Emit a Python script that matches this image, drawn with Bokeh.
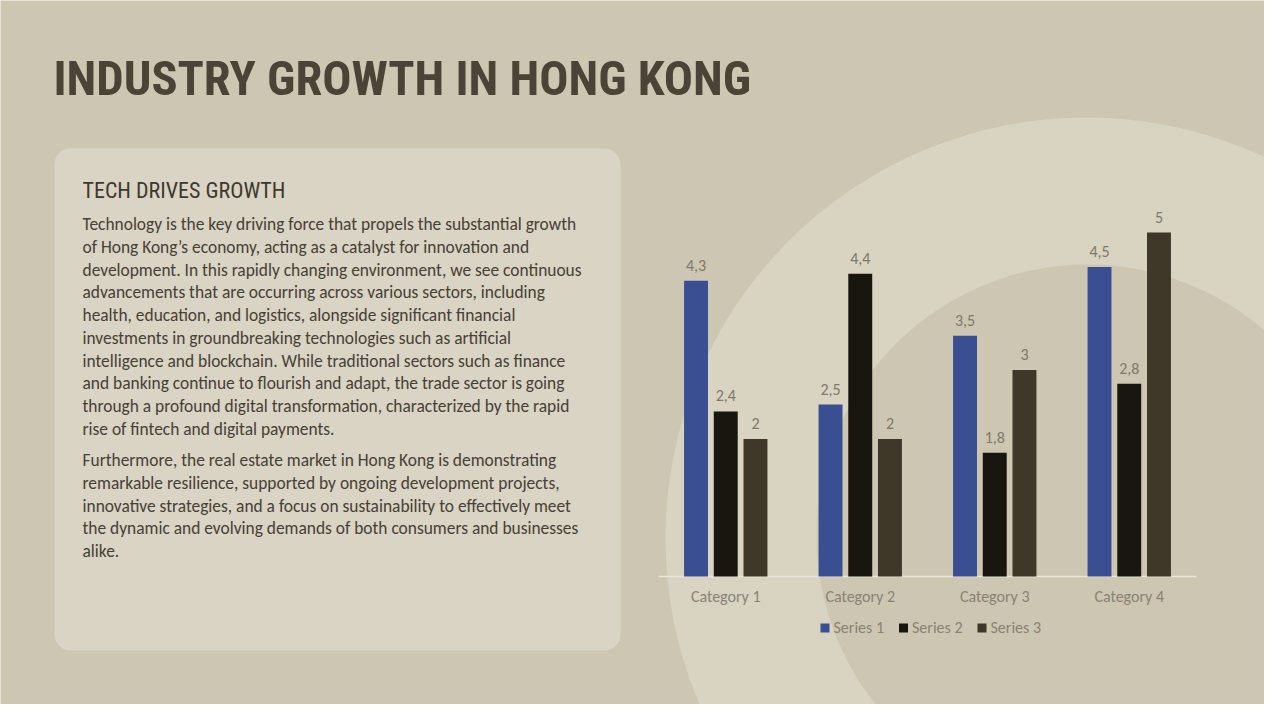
from bokeh.plotting import figure
from bokeh.models import Range1d, BoxAnnotation, ColumnDataSource
from bokeh.core.properties import value
from bokeh.embed import file_html
from bokeh.resources import INLINE
import numpy as np

# ---------------- data ----------------
categories = ["Category 1", "Category 2", "Category 3", "Category 4"]
series_names = ["Series 1", "Series 2", "Series 3"]
series_1 = [4.3, 2.5, 3.5, 4.5]
series_2 = [2.4, 4.4, 1.8, 2.8]
series_3 = [2.0, 2.0, 3.0, 5.0]
series_colors = ["#3A4F92", "#19160F", "#3F3727"]

title_text = "INDUSTRY GROWTH IN HONG KONG"
subtitle_text = "TECH DRIVES GROWTH"
paragraph_1 = [
    "Technology is the key driving force that propels the substantial growth",
    "of Hong Kong\u2019s economy, acting as a catalyst for innovation and",
    "development. In this rapidly changing environment, we see continuous",
    "advancements that are occurring across various sectors, including",
    "health, education, and logistics, alongside significant financial",
    "investments in groundbreaking technologies such as artificial",
    "intelligence and blockchain. While traditional sectors such as finance",
    "and banking continue to flourish and adapt, the trade sector is going",
    "through a profound digital transformation, characterized by the rapid",
    "rise of fintech and digital payments.",
]
paragraph_2 = [
    "Furthermore, the real estate market in Hong Kong is demonstrating",
    "remarkable resilience, supported by ongoing development projects,",
    "innovative strategies, and a focus on sustainability to effectively meet",
    "the dynamic and evolving demands of both consumers and businesses",
    "alike.",
]

# ---------------- styles / layout ----------------
BG = "#CDC6B2"
LIGHT = "#D9D3C1"
BOX = "#D9D4C3"
TITLE_COL = "#4A4336"
BODY_COL = "#474036"
LABEL_COL = "#80786B"
AXIS_COL = "#E9E5D8"
BODY_FONT = value("Carlito, Lato, sans-serif")
NARROW_FONT = value("'Roboto Condensed', 'DejaVu Sans Condensed', sans-serif")

W, H = 1264, 704
OX, OY = 8, 8          # page margin: main coordinates are window pixels

X0_PX, CAT_PX = 666.0, 134.5   # chart plot area: left edge, width of one category
Y0_PX, UNIT_PX = 584.0, 68.8   # chart baseline, pixels per value unit


def fmt(v):
    s = ("%g" % v)
    return s.replace(".", ",")


p = figure(width=W, height=H,
           x_range=Range1d(OX, OX + W), y_range=Range1d(OY + H, OY),
           output_backend="svg", toolbar_location=None,
           x_axis_location=None, y_axis_location=None, min_border=0)
p.grid.visible = False
p.outline_line_color = None
p.background_fill_color = BG
p.border_fill_color = BG

p.extra_x_ranges = {"cat": Range1d((OX - X0_PX) / CAT_PX, (OX + W - X0_PX) / CAT_PX)}
p.extra_y_ranges = {"val": Range1d((Y0_PX - (OY + H)) / UNIT_PX, (Y0_PX - OY) / UNIT_PX)}

# decorative rings
p.circle(x=[1094], y=[546], radius=421, fill_color=LIGHT, line_color=None)
p.circle(x=[1095], y=[543], radius=271, fill_color=BG, line_color=None)

# text panel
box = BoxAnnotation(left=62, right=628, top=156, bottom=658, fill_color=BOX,
                    fill_alpha=1.0, line_color=None, border_radius=16, level="underlay")
p.add_layout(box)

# title & texts
p.text(x=[61], y=[86], text=[title_text], text_font=NARROW_FONT, text_font_style="bold",
       text_font_size="48.5px", text_color=TITLE_COL, text_baseline="alphabetic")
p.text(x=[90], y=[198], text=[subtitle_text], text_font=NARROW_FONT,
       text_font_size="22px", text_color="#3E382F", text_baseline="alphabetic")

LINE_H = 22.75
y1 = 231.5 + LINE_H * np.arange(len(paragraph_1))
y2 = 467.5 + LINE_H * np.arange(len(paragraph_2))
p.text(x=[90] * (len(paragraph_1) + len(paragraph_2)), y=list(y1) + list(y2),
       text=paragraph_1 + paragraph_2, text_font=BODY_FONT, text_font_size="17.4px",
       text_color=BODY_COL, text_baseline="alphabetic")

# chart
n = len(categories)
centers = np.arange(n) + 0.5
p.segment(x0=[0], x1=[n], y0=[0], y1=[0], line_color=AXIS_COL, line_width=1.5,
          x_range_name="cat", y_range_name="val")

offsets = [-0.221, 0.0, 0.221]
bar_w = 0.178
label_gap = 15.5 / UNIT_PX
for k, vals in enumerate([series_1, series_2, series_3]):
    src = ColumnDataSource(dict(x=centers + offsets[k], top=vals,
                                ly=[v + label_gap for v in vals],
                                label=[fmt(v) for v in vals]))
    p.vbar(x="x", top="top", bottom=0, width=bar_w, source=src,
           fill_color=series_colors[k], line_color=None,
           x_range_name="cat", y_range_name="val")
    p.text(x="x", y="ly", text="label", source=src, text_font=BODY_FONT,
           text_font_size="16px", text_color=LABEL_COL, text_align="center",
           text_baseline="alphabetic", x_range_name="cat", y_range_name="val")

p.text(x=list(centers), y=[-20.0 / UNIT_PX] * n, text=categories, text_font=BODY_FONT,
       text_font_size="16px", text_color="#8A8275", text_align="center",
       text_baseline="alphabetic", x_range_name="cat", y_range_name="val")

# legend
LEG_X0, LEG_PITCH = 828.0, 78.5
lx = LEG_X0 + LEG_PITCH * np.arange(len(series_names))
p.rect(x=list(lx + 4.5), y=[635.5] * 3, width=9, height=9, fill_color=series_colors,
       line_color=None)
p.text(x=list(lx + 13), y=[635] * 3, text=series_names, text_font=BODY_FONT,
       text_font_size="16px", text_color="#8A8275", text_baseline="alphabetic")

open("out.html", "w").write(file_html(p, INLINE))
